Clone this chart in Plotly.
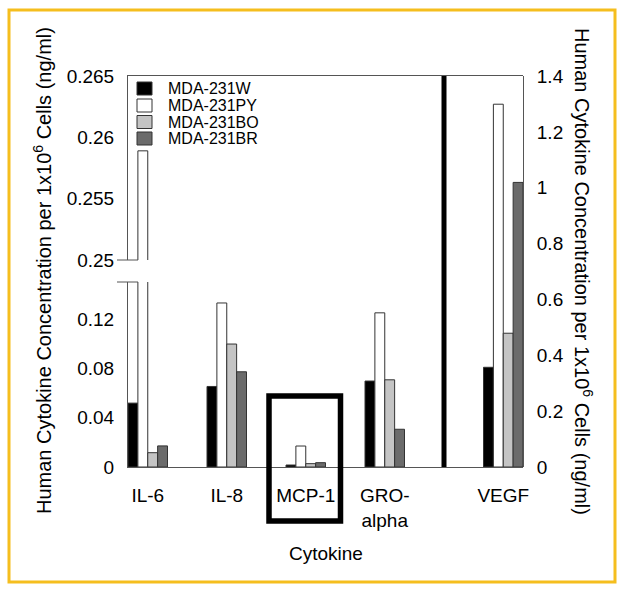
import plotly.graph_objects as go

# ---------------- data ----------------
cytokines_left = ["IL-6", "IL-8", "MCP-1", "GRO-<br>alpha"]
cytokine_right = ["VEGF"]
series_names = ["MDA-231W", "MDA-231PY", "MDA-231BO", "MDA-231BR"]

# left axis values (ng/ml), order: IL-6, IL-8, MCP-1, GRO-alpha
w_left = [0.0518, 0.0653, 0.0016, 0.0697]
py_left = [0.2589, 0.1330, 0.0170, 0.1250]
bo_left = [0.0116, 0.0997, 0.0027, 0.0707]
br_left = [0.0171, 0.0772, 0.0035, 0.0306]

# right axis values (ng/ml), VEGF
w_right = [0.357]
py_right = [1.299]
bo_right = [0.479]
br_right = [1.019]

left_low_ticks = [0, 0.04, 0.08, 0.12]
left_high_ticks = [0.25, 0.255, 0.26, 0.265]
right_ticks = [0, 0.2, 0.4, 0.6, 0.8, 1, 1.2, 1.4]

# ---------------- styling / layout ----------------
colors = ["#000000", "#ffffff", "#c4c4c4", "#6b6b6b"]
FONT = "Liberation Sans, Arial, sans-serif"
W, H = 624, 592
L, R, T, B = 128, 101, 76, 125
PW, PH = W - L - R, H - T - B

def px_x(px):
    return (px - L) / PW

def px_y(py):
    return (H - B - py) / PH

bar_w = 0.125
left_pos = [float(i) for i in range(len(cytokines_left))]
right_pos = [4.5]

all_left = [w_left, py_left, bo_left, br_left]
all_right = [w_right, py_right, bo_right, br_right]

fig = go.Figure()
for k, name in enumerate(series_names):
    common = dict(
        marker=dict(color=colors[k], line=dict(color="#333333", width=1)),
        width=bar_w,
        offset=k * bar_w,
        hoverinfo="skip",
        showlegend=False,
    )
    # lower segment of broken left axis
    fig.add_trace(go.Bar(x=left_pos, y=all_left[k], xaxis="x", yaxis="y", name=name, **common))
    # upper segment of broken left axis
    fig.add_trace(go.Bar(x=left_pos, y=all_left[k], xaxis="x2", yaxis="y2", name=name, **common))
    # right axis (VEGF)
    fig.add_trace(go.Bar(x=right_pos, y=all_right[k], xaxis="x", yaxis="y3", name=name, **common))

low_top = 0.15
dom_low = [0, px_y(282)]
dom_high = [px_y(260), 1]

tickfont = dict(family=FONT, size=19, color="#000000")
axcol = "#555555"

fig.update_layout(
    width=W, height=H,
    margin=dict(l=L, r=R, t=T, b=B),
    paper_bgcolor="white", plot_bgcolor="rgba(0,0,0,0)",
    barmode="overlay",
    font=dict(family=FONT, color="#000000"),
    xaxis=dict(
        domain=[0, 1], range=[0, 5], anchor="y",
        tickvals=[p + 0.25 for p in left_pos] + [p + 0.25 for p in right_pos],
        ticktext=cytokines_left + cytokine_right,
        ticks="", showgrid=False, zeroline=False,
        showline=True, linecolor=axcol, linewidth=1,
        tickfont=tickfont, ticklabelstandoff=11,
    ),
    xaxis2=dict(
        domain=[0, 1], range=[0, 5], anchor="y2", matches="x", side="top",
        showticklabels=False, ticks="", showgrid=False, zeroline=False,
        showline=True, linecolor=axcol, linewidth=1,
    ),
    yaxis=dict(
        domain=dom_low, range=[0, low_top], anchor="x",
        tickvals=left_low_ticks, ticks="", showgrid=False, zeroline=False,
        showline=True, linecolor=axcol, linewidth=1,
        tickfont=tickfont, ticklabelstandoff=9,
    ),
    yaxis2=dict(
        domain=dom_high, range=[0.25, 0.265], anchor="x2",
        tickvals=left_high_ticks, ticks="", showgrid=False, zeroline=False,
        showline=True, linecolor=axcol, linewidth=1,
        tickfont=tickfont, ticklabelstandoff=9,
    ),
    yaxis3=dict(
        domain=[0, 1], range=[0, 1.4], anchor="x", side="right",
        tickvals=right_ticks, ticks="", showgrid=False, zeroline=False,
        showline=True, linecolor=axcol, linewidth=1,
        tickfont=tickfont, ticklabelstandoff=9,
    ),
    showlegend=False,
)

shapes = []
# thick separator between left and right axis sections
shapes.append(dict(type="line", xref="x", yref="paper", x0=4, x1=4, y0=0, y1=1,
                   line=dict(color="#000000", width=5)))
# box around MCP-1
shapes.append(dict(type="rect", xref="paper", yref="paper",
                   x0=px_x(269), x1=px_x(340.5), y0=px_y(521), y1=px_y(396),
                   line=dict(color="#000000", width=5.5)))
# axis break marks
for yy in (260, 282):
    shapes.append(dict(type="line", xref="paper", yref="paper",
                       x0=px_x(117), x1=px_x(138), y0=px_y(yy), y1=px_y(yy),
                       line=dict(color=axcol, width=1)))
# outer golden frame
shapes.append(dict(type="rect", xref="paper", yref="paper",
                   x0=px_x(9), x1=px_x(615), y0=px_y(582), y1=px_y(10),
                   line=dict(color="#F5BE1E", width=3)))

annotations = []
# manual legend
leg_rows = [88.5, 105.5, 122, 138.5]
for k, name in enumerate(series_names):
    cy = leg_rows[k]
    shapes.append(dict(type="rect", xref="paper", yref="paper",
                       x0=px_x(137), x1=px_x(152), y0=px_y(cy + 6.5), y1=px_y(cy - 6.5),
                       fillcolor=colors[k], line=dict(color="#333333", width=1)))
    annotations.append(dict(xref="paper", yref="paper", x=px_x(166), y=px_y(cy),
                            text=name, showarrow=False, xanchor="left", yanchor="middle",
                            font=dict(family=FONT, size=16, color="#000000")))

title_txt = "Human Cytokine Concentration per 1x10<sup>6</sup> Cells (ng/ml)"
annotations.append(dict(xref="paper", yref="paper", x=px_x(42), y=px_y(271),
                        text=title_txt, textangle=-90, showarrow=False,
                        xanchor="center", yanchor="middle",
                        font=dict(family=FONT, size=20, color="#000000")))
annotations.append(dict(xref="paper", yref="paper", x=px_x(584), y=px_y(271),
                        text=title_txt, textangle=90, showarrow=False,
                        xanchor="center", yanchor="middle",
                        font=dict(family=FONT, size=20, color="#000000")))
annotations.append(dict(xref="paper", yref="paper", x=px_x(326), y=px_y(553),
                        text="Cytokine", showarrow=False,
                        xanchor="center", yanchor="middle",
                        font=dict(family=FONT, size=19, color="#000000")))

fig.update_layout(shapes=shapes, annotations=annotations)
fig.write_html("out.html", config={"displayModeBar": False},
               post_script="document.body.style.margin='0';document.body.style.overflow='hidden';")
